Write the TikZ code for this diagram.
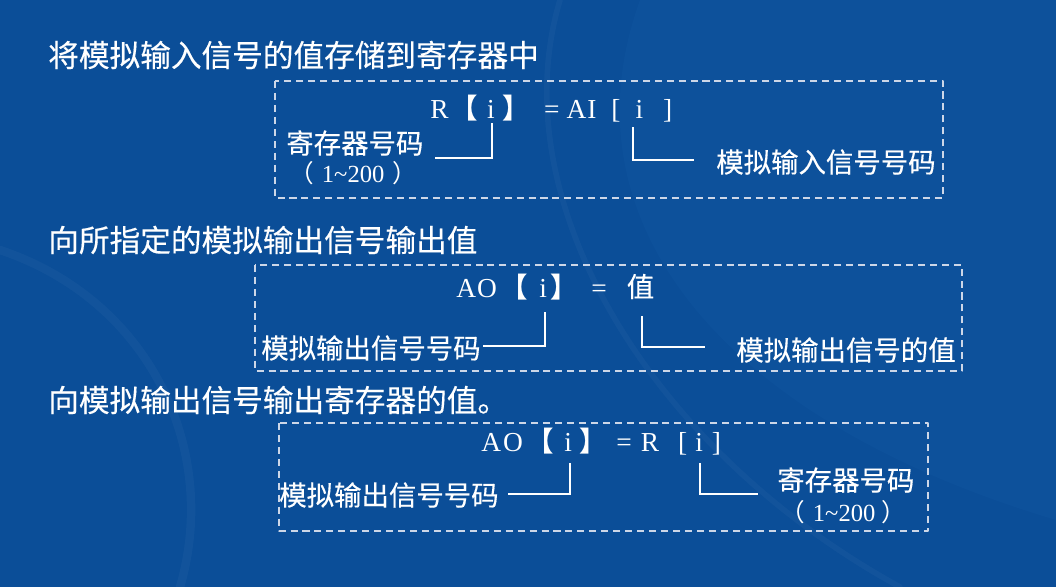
\documentclass[tikz,border=0pt]{standalone}
\usepackage{fontspec}
\setmainfont{Liberation Serif}
\newfontfamily\cjk[FakeBold=0.35]{Noto Sans CJK SC}
\newfontfamily\cjkb{Noto Sans CJK SC}
\definecolor{bgblue}{RGB}{11,78,152}
\definecolor{bglight}{RGB}{22,94,170}
\definecolor{boxgray}{RGB}{205,215,232}
\newlength{\pxu}\setlength{\pxu}{0.7113pt}
\newcommand{\gp}[1]{\hspace*{#1\pxu}}
\newcommand{\lb}{{\cjkb\bfseries 【}}
\newcommand{\rb}{{\cjkb\bfseries 】}}
\begin{document}
\begin{tikzpicture}[x=0.025cm, y=-0.025cm, line join=round, line cap=round,
  title/.style={anchor=west, inner sep=0pt, text=white, font=\cjk\fontsize{21.8}{24}\selectfont},
  lbl/.style={anchor=west, inner sep=0pt, text=white, font=\cjk\fontsize{19.5}{22}\selectfont},
  num/.style={anchor=base west, inner sep=0pt, text=white, font=\fontsize{17.5}{20}\selectfont},
  fml/.style={anchor=base west, inner sep=0pt, text=white, font=\fontsize{19.5}{22}\selectfont},
  frame/.style={draw=boxgray, line width=1pt, dash pattern=on 5pt off 3.5pt, line cap=butt},
  link/.style={draw=white, line width=1.8pt, line cap=butt, line join=miter}]
\useasboundingbox (0,0) rectangle (1056,587);
\clip (0,0) rectangle (1056,587);
\fill[bgblue] (0,0) rectangle (1056,587);
\fill[bglight, opacity=0.2] (640,0) .. controls (560,220) and (720,420) .. (1056,520) -- (1056,0) -- cycle;
\draw[white, opacity=0.03, line width=6pt] (0,250) .. controls (150,300) and (220,450) .. (180,587);
\draw[white, opacity=0.03, line width=4pt] (560,0) .. controls (500,200) and (650,450) .. (900,587);
% titles
\node[title] (t1) at (48,55) {将模拟输入信号的值存储到寄存器中};
\node[title] (t2) at (48,240) {向所指定的模拟输出信号输出值};
\node[title] (t3) at (48,400) {向模拟输出信号输出寄存器的值。};
% box 1
\draw[frame] (275,81) rectangle (943,198);
\node[fml] (f1) at (430,118) {R\gp{2}\lb\gp{9}i\gp{8}\rb\gp{14}=\gp{7}A\gp{1}I\gp{15}[\gp{15}i\gp{20}]};
\node[lbl] (reg1) at (286,143) {寄存器号码};
\node[num] (rng1) at (289,182) {{\cjkb（}\gp{8}1\textasciitilde200\gp{8}{\cjkb）}};
\node[lbl] (ain) at (716,162) {模拟输入信号号码};
\coordinate (c1a) at (492,123); \coordinate (c1b) at (435,158);
\coordinate (c1c) at (633,127); \coordinate (c1d) at (694,160);
\draw[link] (c1a) |- (c1b);
\draw[link] (c1c) |- (c1d);
% box 2
\draw[frame] (255,265) rectangle (962,371);
\node[fml] (f2) at (456,297) {A\gp{1}O\gp{4}\lb\gp{11}i\gp{4}\rb\gp{13}=\gp{20}{\cjk 值}};
\node[lbl] (ao2) at (261,348) {模拟输出信号号码};
\node[lbl] (val2) at (736,350) {模拟输出信号的值};
\coordinate (c2a) at (545,312); \coordinate (c2b) at (483,346);
\coordinate (c2c) at (642,316); \coordinate (c2d) at (705,347);
\draw[link] (c2a) |- (c2b);
\draw[link] (c2c) |- (c2d);
% box 3
\draw[frame] (279,423) rectangle (928,531);
\node[fml] (f3) at (481,451) {A\gp{2}O\gp{4}\lb\gp{10}i\gp{8}\rb\gp{9}=\gp{9}R\gp{19}[\gp{8}i\gp{9}]};
\node[lbl] (ao3) at (279,495) {模拟输出信号号码};
\node[lbl] (reg3) at (777,480) {寄存器号码};
\node[num] (rng3) at (780,521) {{\cjkb（}\gp{8}1\textasciitilde200\gp{6}{\cjkb）}};
\coordinate (c3a) at (570,463); \coordinate (c3b) at (508,494);
\coordinate (c3c) at (700,463); \coordinate (c3d) at (758,494);
\draw[link] (c3a) |- (c3b);
\draw[link] (c3c) |- (c3d);
\end{tikzpicture}
\end{document}
